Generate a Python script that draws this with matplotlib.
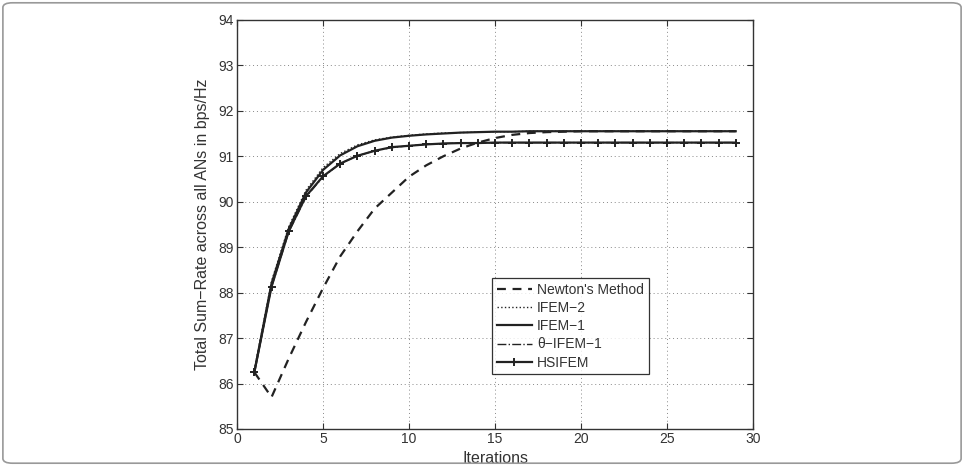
import matplotlib
matplotlib.use('Agg')
from matplotlib import pyplot as plt
from matplotlib.patches import FancyBboxPatch
import numpy as np

plt.rcParams['font.family'] = ['Liberation Sans', 'DejaVu Sans']

##Données
iterations = list(range(1, 30))

newton = [86.25, 85.70, 86.55, 87.35, 88.10, 88.80, 89.35, 89.85, 90.20, 90.55,
          90.80, 91.00, 91.17, 91.30, 91.40, 91.47, 91.51, 91.53, 91.54, 91.55,
          91.55, 91.55, 91.55, 91.55, 91.55, 91.55, 91.55, 91.55, 91.55]
ifem2 = [86.30, 88.25, 89.45, 90.25, 90.75, 91.06, 91.25, 91.36, 91.42, 91.46,
         91.49, 91.51, 91.52, 91.53, 91.54, 91.54, 91.55, 91.55, 91.55, 91.55,
         91.55, 91.55, 91.55, 91.55, 91.55, 91.55, 91.55, 91.55, 91.55]
ifem1 = [86.25, 88.20, 89.40, 90.20, 90.70, 91.02, 91.22, 91.34, 91.41, 91.45,
         91.48, 91.50, 91.52, 91.53, 91.54, 91.54, 91.55, 91.55, 91.55, 91.55,
         91.55, 91.55, 91.55, 91.55, 91.55, 91.55, 91.55, 91.55, 91.55]
theta_ifem1 = [86.25, 88.12, 89.33, 90.10, 90.55, 90.84, 91.01, 91.12, 91.19, 91.23,
               91.26, 91.28, 91.29, 91.29, 91.30, 91.30, 91.30, 91.30, 91.30, 91.30,
               91.30, 91.30, 91.30, 91.30, 91.30, 91.30, 91.30, 91.30, 91.30]
hsifem = [86.25, 88.13, 89.35, 90.12, 90.56, 90.84, 91.01, 91.12, 91.20, 91.23,
          91.26, 91.28, 91.29, 91.29, 91.30, 91.30, 91.30, 91.30, 91.30, 91.30,
          91.30, 91.30, 91.30, 91.30, 91.30, 91.30, 91.30, 91.30, 91.30]

labels = ["Newton's Method", "IFEM\u22122", "IFEM\u22121", "\u03b8\u2212IFEM\u22121", "HSIFEM"]

##Figure
fig = plt.figure(figsize=(9.64, 4.66), dpi=100)
ax = fig.add_axes([0.246, 0.0794, 0.535, 0.878])

c = '#222222'
ax.plot(iterations, newton, '--', color=c, lw=1.6, dashes=(4, 3), label=labels[0])
ax.plot(iterations, ifem2, ':', color=c, lw=1.0, label=labels[1])
ax.plot(iterations, ifem1, '-', color=c, lw=1.6, label=labels[2])
ax.plot(iterations, theta_ifem1, '-.', color=c, lw=1.0, label=labels[3])
ax.plot(iterations, hsifem, '-', color=c, lw=1.6, marker='+', markersize=6,
        markeredgewidth=1.4, label=labels[4])

ax.set_xlim(0, 30)
ax.set_ylim(85, 94)
ax.set_xticks(np.arange(0, 31, 5))
ax.set_yticks(np.arange(85, 95, 1))
ax.tick_params(direction='in', labelsize=10, length=4, pad=2.5, top=True, right=True,
               labeltop=False, labelright=False, colors='#333333')
ax.grid(True, linestyle=(0, (1, 3)), color='#888888', lw=0.7)
for s in ax.spines.values():
    s.set_color('#333333')
    s.set_linewidth(1.0)

ax.set_xlabel('Iterations', fontsize=11.5, color='#333333', labelpad=3)
ax.set_ylabel('Total Sum\u2212Rate across all ANs in bps/Hz', fontsize=11.5,
              color='#333333', labelpad=6)

leg = ax.legend(loc='upper left', bbox_to_anchor=(0.494, 0.369), fontsize=10,
                frameon=True, fancybox=False, edgecolor='black',
                handlelength=2.5, handletextpad=0.4, borderpad=0.35,
                labelspacing=0.3, borderaxespad=0)
leg.get_frame().set_linewidth(0.9)
for t in leg.get_texts():
    t.set_color('#333333')

##Cadre extérieur
cadre = FancyBboxPatch((0.003, 0.006), 0.994, 0.988, boxstyle='round,pad=0,rounding_size=0.01',
                       transform=fig.transFigure, fill=False, edgecolor='#999999', lw=1.2)
fig.patches.append(cadre)

plt.savefig('out.png', dpi=100)
